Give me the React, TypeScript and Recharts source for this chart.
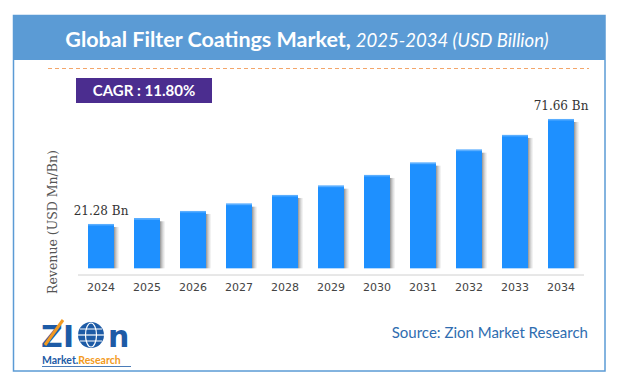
import React from "react";
import { BarChart, Bar, XAxis, YAxis, LabelList } from "recharts";

// values (USD Bn)
const years = ["2024", "2025", "2026", "2027", "2028", "2029", "2030", "2031", "2032", "2033", "2034"];
const revenue = [21.28, 24.02, 27.52, 31.02, 35.2, 39.66, 44.8, 50.7, 56.93, 64.0, 71.66];
const labelledYears = ["2024", "2034"];

const title = "Global Filter Coatings Market,";
const subtitle = "2025-2034 (USD Billion)";
const cagr = "CAGR : 11.80%";
const source = "Source: Zion Market Research";
const yLabel = "Revenue (USD Mn/Bn)";

const data = years.map((year, i) => ({ year, value: revenue[i] }));

const BLUE = "#1E90FF";
const FRAME = "#5B9BD5";

const ShadowBar = (props: any) => {
  const { x, y, width, height } = props;
  if (!height || height <= 0) return null;
  return (
    <g>
      <rect x={x + width} y={y + 3} width={5} height={height - 3} fill="url(#barShadow)" />
      <rect x={x} y={y} width={width} height={height} fill={BLUE} />
      <rect x={x} y={y} width={width} height={1.5} fill="#5aaeff" />
    </g>
  );
};

const EndLabel = (props: any) => {
  const { x, y, width, index } = props;
  if (!labelledYears.includes(years[index])) return null;
  return (
    <text
      x={x + width / 2}
      y={y - 9}
      textAnchor="middle"
      fontFamily="'DejaVu Serif', serif"
      fontSize={12}
      fill="#333"
    >
      {`${revenue[index].toFixed(2)} Bn`}
    </text>
  );
};

export default function App() {
  return (
    <div style={{ position: "absolute", left: 0, top: 0, width: 617, height: 386, background: "#fff" }}>
      <svg width={617} height={386} style={{ position: "absolute", left: 0, top: 0 }}>
        <rect x={13.5} y={15.5} width={591.5} height={355.5} fill="#fff" stroke={FRAME} strokeWidth={1.5} />
        <rect x={13} y={15} width={592} height={45} fill={FRAME} />
        <text x={307} y={47} textAnchor="middle" fill="#fff" fontFamily="Lato, 'Open Sans', sans-serif">
          <tspan fontWeight="bold" fontSize={21.5}>{title}</tspan>
          <tspan fontStyle="italic" fontSize={18.5} dx={5}>{subtitle}</tspan>
        </text>
        <line x1={48} y1={68.5} x2={589} y2={68.5} stroke="#F4A66A" strokeWidth={1.2} strokeDasharray="4 3" />
        <rect x={76} y={78} width={136} height={25} fill="#4B2D8F" />
        <text x={144} y={96} textAnchor="middle" fill="#fff" fontFamily="Lato, sans-serif" fontWeight="bold" fontSize={15}>
          {cagr}
        </text>
        <text
          transform="translate(57, 222) rotate(-90)"
          textAnchor="middle"
          fontFamily="'DejaVu Serif', serif"
          fontSize={12.5}
          fill="#555"
        >
          {yLabel}
        </text>
        <text x={588} y={338} textAnchor="end" fill="#2F6DB0" fontFamily="Lato, sans-serif" fontSize={15}>
          {source}
        </text>
        {/* logo */}
        <g fontFamily="'DejaVu Sans', sans-serif" fontWeight="bold">
          <text x={41} y={347} fontSize={30} fill="#1D5BA6">Z</text>
          <line x1={45} y1={345} x2={63} y2={320} stroke="#F39A21" strokeWidth={3} />
          <text x={63} y={347} fontSize={30} fill="#1D5BA6">I</text>
          <circle cx={91} cy={335} r={13} fill="#1D5BA6" />
          <ellipse cx={91} cy={335} rx={5.5} ry={12} fill="none" stroke="#fff" strokeWidth={1.2} />
          <line x1={78} y1={335} x2={104} y2={335} stroke="#fff" strokeWidth={1.2} />
          <line x1={80} y1={329} x2={102} y2={329} stroke="#fff" strokeWidth={1} />
          <line x1={80} y1={341} x2={102} y2={341} stroke="#fff" strokeWidth={1} />
          <text x={108} y={347} fontSize={30} fill="#1D5BA6">n</text>
        </g>
        <text x={42} y={364} fontSize={10.5} fontWeight="bold" fontFamily="Lato, sans-serif">
          <tspan fill="#1D5BA6">Market.</tspan>
          <tspan fill="#F39A21">Research</tspan>
        </text>
        <line x1={42} y1={366.5} x2={131} y2={366.5} stroke="#1D5BA6" strokeWidth={0.8} />
      </svg>
      <div style={{ position: "absolute", left: 0, top: 0 }}>
        <BarChart width={617} height={300} data={data} margin={{ top: 101.6, right: 33, bottom: 0, left: 78 }} barSize={26}>
          <defs>
            <linearGradient id="barShadow" x1="0" y1="0" x2="1" y2="0">
              <stop offset="0%" stopColor="#777" stopOpacity={0.8} />
              <stop offset="100%" stopColor="#bbb" stopOpacity={0.1} />
            </linearGradient>
          </defs>
          <XAxis
            dataKey="year"
            height={25}
            axisLine={{ stroke: "#d0d0d0" }}
            tickLine={false}
            tick={{ fill: "#444", fontSize: 11, fontFamily: "'DejaVu Sans', Verdana, sans-serif" }}
            interval={0}
          />
          <YAxis hide domain={[-3.2, 80]} width={0} />
          <Bar dataKey="value" shape={<ShadowBar />} isAnimationActive={false}>
            <LabelList dataKey="value" content={<EndLabel />} />
          </Bar>
        </BarChart>
      </div>
    </div>
  );
}
